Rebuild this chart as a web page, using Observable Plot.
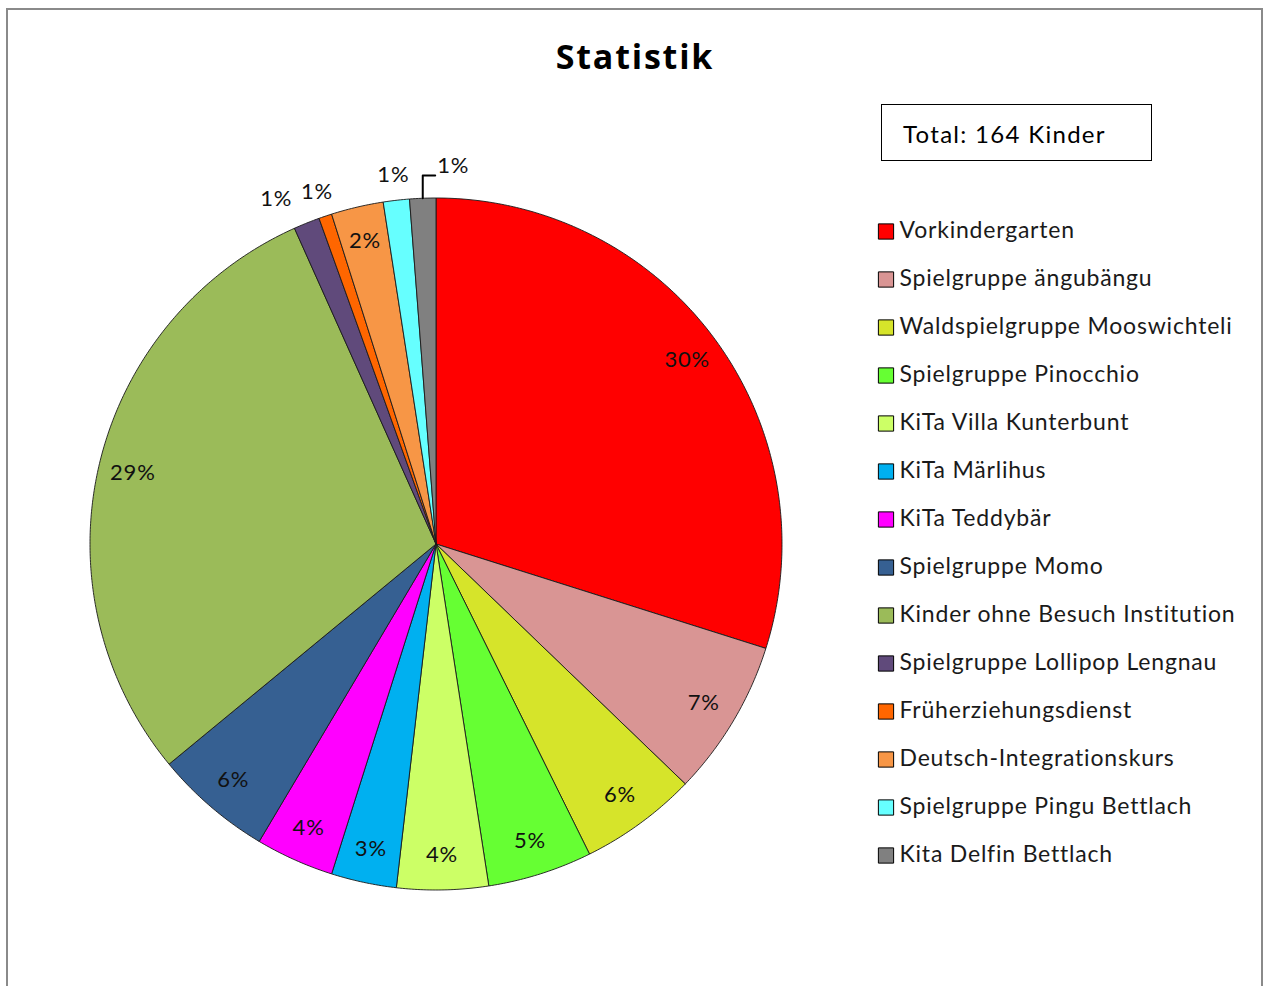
<!DOCTYPE html>
<html><head><meta charset="utf-8">
<script src="https://cdn.jsdelivr.net/npm/d3@7"></script>
<script src="https://cdn.jsdelivr.net/npm/@observablehq/plot@0.6"></script>
<style>
html,body{margin:0;padding:0;background:#fff;}
#wrap{position:relative;width:1266px;height:986px;overflow:hidden;font-family:Lato,"Open Sans",sans-serif;font-variant-ligatures:none;}
#wrap text{font-variant-ligatures:none;}
#frame{position:absolute;left:6px;top:8px;width:1257px;height:1100px;border:2px solid #8a8a8a;box-sizing:border-box;}
#title{position:absolute;left:0;top:36px;width:1270px;text-align:center;font-family:"Open Sans",Lato,sans-serif;font-weight:bold;font-size:34px;letter-spacing:1.8px;line-height:40px;color:#000;}
#total{position:absolute;left:881px;top:104px;width:271px;height:57px;border:1.5px solid #000;box-sizing:border-box;font-size:24px;letter-spacing:1.3px;line-height:57px;padding-left:21px;color:#000;}
#pie,#legend{position:absolute;top:0;}
#pie{left:0;}
#legend{left:870px;}
</style>
</head><body>
<div id="wrap">
  <div id="frame"></div>
  <div id="pie"></div>
  <div id="legend"></div>
  <div id="title"></div>
  <div id="total"></div>
</div>
<script>
const categories = [
  "Vorkindergarten",
  "Spielgruppe ängubängu",
  "Waldspielgruppe Mooswichteli",
  "Spielgruppe Pinocchio",
  "KiTa Villa Kunterbunt",
  "KiTa Märlihus",
  "KiTa Teddybär",
  "Spielgruppe Momo",
  "Kinder ohne Besuch Institution",
  "Spielgruppe Lollipop Lengnau",
  "Früherziehungsdienst",
  "Deutsch-Integrationskurs",
  "Spielgruppe Pingu Bettlach",
  "Kita Delfin Bettlach"
];
const counts = [49, 12, 9, 8, 7, 5, 6, 9, 48, 2, 1, 4, 2, 2];
const percentLabels = ["30%", "7%", "6%", "5%", "4%", "3%", "4%", "6%", "29%", "1%", "1%", "2%", "1%", "1%"];
const colors = [
  "#FF0000", "#D99594", "#D6E42A", "#66FF33", "#CCFF66", "#00B0F0", "#FF00FF",
  "#366092", "#9BBB59", "#604A7B", "#FF6600", "#F79646", "#66FFFF", "#808080"
];
const title = "Statistik";
const totalLabel = "Total: " + d3.sum(counts) + " Kinder";

document.getElementById("total").textContent = totalLabel;
document.getElementById("title").textContent = title;

const total = d3.sum(counts);
const arcs = d3.pie().sort(null).value(d => d)(counts);

// polygon points for each slice (unit circle, angle clockwise from 12 o'clock)
const slicePts = [];
arcs.forEach((a, i) => {
  const name = categories[i];
  slicePts.push({name, x: 0, y: 0});
  const n = Math.max(2, Math.ceil((a.endAngle - a.startAngle) / (Math.PI / 360)));
  for (let k = 0; k <= n; k++) {
    const t = a.startAngle + (a.endAngle - a.startAngle) * k / n;
    slicePts.push({name, x: Math.sin(t), y: Math.cos(t)});
  }
  slicePts.push({name, x: 0, y: 0});
});

// labels
const inside = [], outside = [], leader = [], leaderLabel = [];
arcs.forEach((a, i) => {
  const m = (a.startAngle + a.endAngle) / 2;
  const small = counts[i] / total < 0.015;
  if (!small) {
    inside.push({x: 0.9 * Math.sin(m), y: 0.9 * Math.cos(m), t: percentLabels[i]});
  } else if (i === arcs.length - 1) {
    const x0 = Math.sin(m), y0 = Math.cos(m);
    leader.push({x: x0, y: y0}, {x: x0, y: y0 + 0.066}, {x: x0 + 0.036, y: y0 + 0.066});
    leaderLabel.push({x: x0 + 0.036, y: y0 + 0.066, t: percentLabels[i]});
  } else {
    outside.push({x: 1.075 * Math.sin(m), y: 1.075 * Math.cos(m), t: percentLabels[i]});
  }
});
// simple collision avoidance for outside labels: push left-hand neighbours further left
outside.sort((a, b) => b.x - a.x);
const minGap = 0.118; // in unit-radius coordinates
for (let k = 1; k < outside.length; k++) {
  if (outside[k - 1].x - outside[k].x < minGap) outside[k].x = outside[k - 1].x - minGap;
}

const font = "Lato, 'Open Sans', sans-serif";
const pie = Plot.plot({
  width: 1266, height: 986, margin: 0,
  style: {background: "transparent", overflow: "visible"},
  x: {domain: [-1, 1], range: [89.5, 781.5], axis: null},
  y: {domain: [-1, 1], range: [889.5, 197.5], axis: null},
  color: {domain: categories, range: colors},
  marks: [
    Plot.line(slicePts, {x: "x", y: "y", z: "name", fill: "name", stroke: "#1a1a1a", strokeWidth: 0.9, strokeLinejoin: "round"}),
    Plot.text(inside, {x: "x", y: "y", text: "t", fontSize: 22, fontFamily: font, fill: "#111"}),
    Plot.text(outside, {x: "x", y: "y", text: "t", fontSize: 22, fontFamily: font, fill: "#111"}),
    Plot.line(leader, {x: "x", y: "y", stroke: "#000", strokeWidth: 2}),
    Plot.text(leaderLabel, {x: "x", y: "y", text: "t", dx: 2, dy: -9, textAnchor: "start", fontSize: 22, fontFamily: font, fill: "#111"})
  ]
});
pie.querySelectorAll("text").forEach(t => t.style.letterSpacing = "0.8px");
document.getElementById("pie").appendChild(pie);

const legendData = categories.map(c => ({name: c}));
const legend = Plot.plot({
  width: 396, height: 986, margin: 0,
  style: {background: "transparent"},
  x: {domain: [0, 1], range: [15.5, 300], axis: null},
  y: {type: "point", domain: categories, range: [229, 856], padding: 0, axis: null},
  color: {domain: categories, range: colors},
  marks: [
    Plot.dot(legendData, {x: () => 0, y: "name", symbol: "square", r: 8.6, fill: "name", stroke: "#000", strokeWidth: 1}),
    Plot.text(legendData, {x: () => 0, y: "name", text: "name", dx: 13.5, dy: -1, textAnchor: "start", fontSize: 23, fontFamily: font, fill: "#1a1a1a"})
  ]
});
legend.querySelectorAll("text").forEach(t => t.style.letterSpacing = "0.8px");
document.getElementById("legend").appendChild(legend);
</script>
</body></html>
